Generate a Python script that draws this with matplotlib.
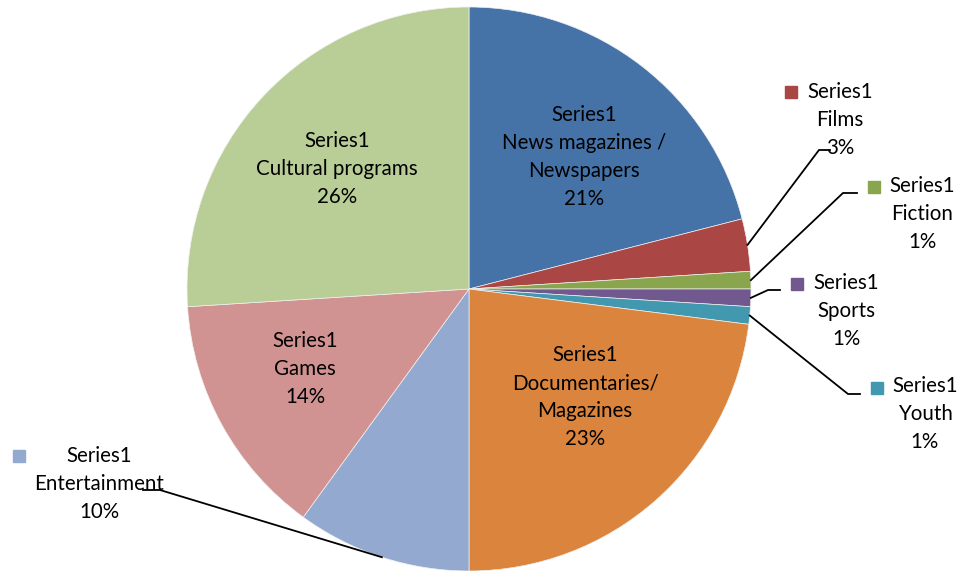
import numpy as np
import matplotlib.pyplot as plt
from matplotlib.patches import Rectangle

#++++++++++++++++++++++++++++++++++++
# Data
#++++++++++++++++++++++++++++++++++++
SERIES_NAME = 'Series1'
CATEGORIES  = ['News magazines /\nNewspapers', 'Films', 'Fiction', 'Sports', 'Youth',
               'Documentaries/\nMagazines', 'Entertainment', 'Games', 'Cultural programs']
SHARES      = [21, 3, 1, 1, 1, 23, 10, 14, 26]

#++++++++++++++++++++++++++++++++++++
# Layout / style (pixel coordinates, y from top)
#++++++++++++++++++++++++++++++++++++
W, H        = 960, 571
CX, CY, R   = 469, 289, 282
COLORS      = ['#4572A7', '#AA4643', '#89A54E', '#71588F', '#4198AF',
               '#DB843D', '#93A9CF', '#D19392', '#B9CD96']
FONT        = 'Lato'
FSIZE       = 14.8
LSPACE      = 1.5

# inside labels: index -> text center
INSIDE = {0: (584, 157), 5: (585, 397), 7: (305, 369), 8: (337, 169)}
# outside labels: index -> (text center, key top-left, elbow, end)
OUTSIDE = {1: ((840, 120), (785, 86), (819, 150), (830, 150)),
           2: ((922, 214), (868, 181), (843, 193), (857, 193)),
           3: ((846, 311), (791, 278), (768, 290), (780, 290)),
           4: ((925, 414), (871, 382), (848, 394), (860, 394)),
           6: ((99, 484), (13, 450), (160, 490), (143, 490))}
KEY = 12


def fy(y):
    return H - y


fig = plt.figure(figsize=(W / 100, H / 100), dpi=100)
ax = fig.add_axes([0, 0, 1, 1])
wedges, _ = ax.pie(SHARES, colors=COLORS, startangle=90, counterclock=False,
                   center=(CX, fy(CY)), radius=R, frame=True,
                   wedgeprops=dict(linewidth=0.5, edgecolor='#f0f0f0'))
ax.set_xlim(0, W)
ax.set_ylim(0, H)
ax.set_aspect('equal')
ax.axis('off')


def label(i):
    return f"{SERIES_NAME}\n{CATEGORIES[i]}\n{SHARES[i]}%"


for i, (x, y) in INSIDE.items():
    ax.text(x, fy(y), label(i), ha='center', va='center', multialignment='center',
            fontsize=FSIZE, family=FONT, linespacing=LSPACE, color='black')

for i, ((tx, ty), (kx, ky), (ex, ey), (lx, ly)) in OUTSIDE.items():
    w = wedges[i]
    th = np.deg2rad((w.theta1 + w.theta2) / 2)
    sx = CX + R * np.cos(th)
    sy = fy(CY) + R * np.sin(th)
    ax.plot([sx, ex, lx], [sy, fy(ey), fy(ly)], color='black', lw=1.3,
            solid_joinstyle='miter', zorder=3)
    ax.add_patch(Rectangle((kx, fy(ky + KEY)), KEY, KEY, color=COLORS[i], zorder=3))
    ax.text(tx, fy(ty), label(i), ha='center', va='center', multialignment='center',
            fontsize=FSIZE, family=FONT, linespacing=LSPACE, color='black', zorder=4)

fig.savefig('out.png', dpi=100)
